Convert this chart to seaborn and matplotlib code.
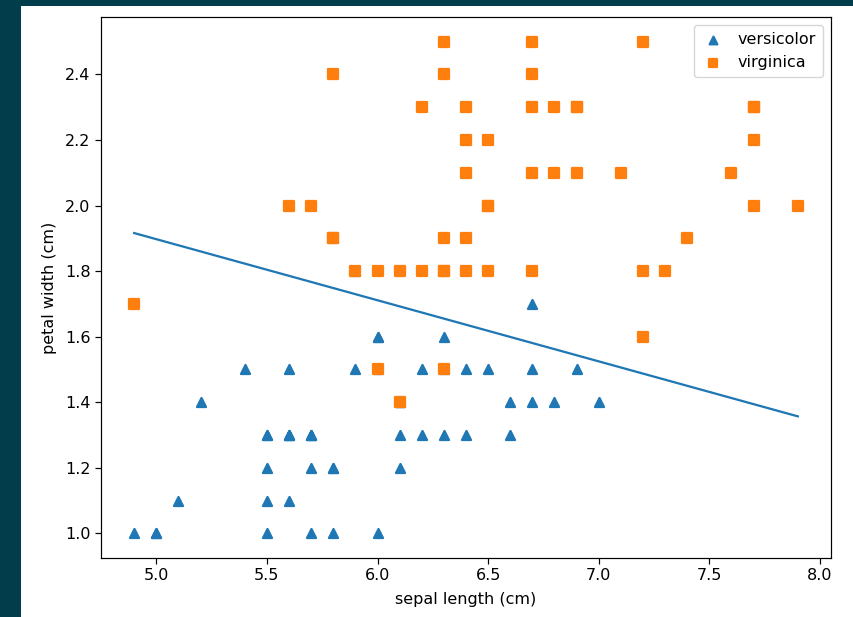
import matplotlib
matplotlib.use("Agg")
import matplotlib.pyplot as plt
import seaborn as sns
import pandas as pd
from matplotlib.patches import Rectangle

# Data (iris: sepal length vs petal width)
versicolor_sepal_length = [7.0, 6.4, 6.9, 5.5, 6.5, 5.7, 6.3, 4.9, 6.6, 5.2, 5.0, 5.9, 6.0, 6.1, 5.6,
                           6.7, 5.6, 5.8, 6.2, 5.6, 5.9, 6.1, 6.3, 6.1, 6.4, 6.6, 6.8, 6.7, 6.0, 5.7,
                           5.5, 5.5, 5.8, 6.0, 5.4, 6.0, 6.7, 6.3, 5.6, 5.5, 5.5, 6.1, 5.8, 5.0, 5.6,
                           5.7, 5.7, 6.2, 5.1, 5.7]
versicolor_petal_width = [1.4, 1.5, 1.5, 1.3, 1.5, 1.3, 1.6, 1.0, 1.3, 1.4, 1.0, 1.5, 1.0, 1.4, 1.3,
                          1.4, 1.5, 1.0, 1.5, 1.1, 1.8, 1.3, 1.5, 1.2, 1.3, 1.4, 1.4, 1.7, 1.5, 1.0,
                          1.1, 1.0, 1.2, 1.6, 1.5, 1.6, 1.5, 1.3, 1.3, 1.3, 1.2, 1.4, 1.2, 1.0, 1.3,
                          1.2, 1.3, 1.3, 1.1, 1.3]
virginica_sepal_length = [6.3, 5.8, 7.1, 6.3, 6.5, 7.6, 4.9, 7.3, 6.7, 7.2, 6.5, 6.4, 6.8, 5.7, 5.8,
                          6.4, 6.5, 7.7, 7.7, 6.0, 6.9, 5.6, 7.7, 6.3, 6.7, 7.2, 6.2, 6.1, 6.4, 7.2,
                          7.4, 7.9, 6.4, 6.3, 6.1, 7.7, 6.3, 6.4, 6.0, 6.9, 6.7, 6.9, 5.8, 6.8, 6.7,
                          6.7, 6.3, 6.5, 6.2, 5.9]
virginica_petal_width = [2.5, 1.9, 2.1, 1.8, 2.2, 2.1, 1.7, 1.8, 1.8, 2.5, 2.0, 1.9, 2.1, 2.0, 2.4,
                         2.3, 1.8, 2.2, 2.3, 1.5, 2.3, 2.0, 2.0, 1.8, 2.1, 1.8, 1.8, 1.8, 2.1, 1.6,
                         1.9, 2.0, 2.2, 1.5, 1.4, 2.3, 2.4, 1.8, 1.8, 2.1, 2.4, 2.3, 1.9, 2.3, 2.5,
                         2.3, 1.9, 2.0, 2.3, 1.8]
# Decision boundary endpoints
boundary_x = [4.9, 7.9]
boundary_y = [1.916, 1.357]

k = 1.08
kf = 1.15
plt.rcParams.update({
    "font.size": 10 * kf,
    "axes.linewidth": 0.8 * k,
    "xtick.major.size": 3.5 * kf,
    "ytick.major.size": 3.5 * kf,
    "xtick.major.width": 0.8 * k,
    "ytick.major.width": 0.8 * k,
    "lines.linewidth": 1.5 * k,
})

fig = plt.figure(figsize=(8.54, 6.17), dpi=100, facecolor="#013d4a")
bg = Rectangle((21 / 854, 0), 1 - 21 / 854, 611 / 617,
               transform=fig.transFigure, facecolor="white",
               edgecolor="none", zorder=-10)
fig.add_artist(bg)
ax = fig.add_axes([101 / 854, 59 / 617, 730 / 854, 541 / 617])
ax.set_zorder(1)

vdf = pd.DataFrame({"x": versicolor_sepal_length, "y": versicolor_petal_width})
gdf = pd.DataFrame({"x": virginica_sepal_length, "y": virginica_petal_width})

sns.scatterplot(data=vdf, x="x", y="y", marker="^", color="#1f77b4", s=42,
                edgecolor="face", linewidth=1.5 * k, label="versicolor", ax=ax)
sns.scatterplot(data=gdf, x="x", y="y", marker="s", color="#ff7f0e", s=42,
                edgecolor="face", linewidth=1.5 * k, label="virginica", ax=ax)
sns.lineplot(x=boundary_x, y=boundary_y, color="#1f77b4", linewidth=1.5 * k, ax=ax)

ax.set_xlabel("sepal length (cm)", labelpad=6.5)
ax.set_ylabel("petal width (cm)", labelpad=5.5)
ax.set_xticks([5.0, 5.5, 6.0, 6.5, 7.0, 7.5, 8.0])
ax.set_yticks([1.0, 1.2, 1.4, 1.6, 1.8, 2.0, 2.2, 2.4])
ax.set_xlim(4.75, 8.05)
ax.set_ylim(0.925, 2.575)
ax.legend(loc="upper right", markerscale=0.85, handlelength=1.5, borderpad=0.45)

fig.savefig("out.png", dpi=100, facecolor=fig.get_facecolor())
